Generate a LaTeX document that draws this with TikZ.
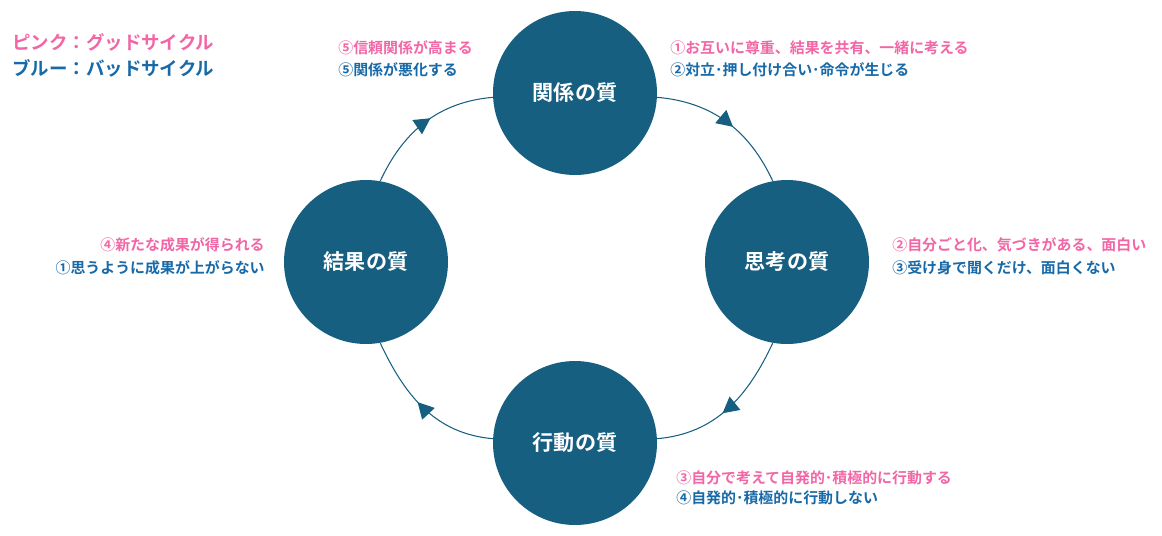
\documentclass[tikz,border=0pt]{standalone}
\usepackage{fontspec}
\setmainfont{Noto Sans CJK JP}[BoldFont={Noto Sans CJK JP Bold}]
\usetikzlibrary{decorations.markings,arrows.meta}
\definecolor{quality}{HTML}{175F80}
\definecolor{good}{HTML}{F266A6}
\definecolor{bad}{HTML}{1769A8}
\tikzset{
  quality/.style={circle, fill=quality, minimum size=3.28cm, text=white, font=\fontsize{12}{14}\selectfont\bfseries},
  flow/.style={draw=quality, line width=0.6pt, postaction={decorate},
    decoration={markings, mark=at position 0.55 with {\arrow[quality]{Triangle[length=3.2mm,width=3.4mm]}}}},
  goodtxt/.style={text=good, font=\fontsize{8.5}{10}\selectfont\bfseries, inner sep=0pt},
  badtxt/.style={text=bad, font=\fontsize{8.5}{10}\selectfont\bfseries, inner sep=0pt},
}
\begin{document}
\begin{tikzpicture}[x=0.02cm, y=-0.02cm]
    \useasboundingbox (0,0) rectangle (1162,535);

    % Nodes
    \node (rel) [quality] at (575,93) {関係の質};
    \node (thk) [quality] at (787,262) {思考の質};
    \node (act) [quality] at (575,443) {行動の質};
    \node (res) [quality] at (366,262) {結果の質};

    % Connectors
    \draw [flow] (rel.-3) to[out=-5, in=115] (thk.100);
    \draw [flow] (thk.-100) to[out=-115, in=5] (act.3);
    \draw [flow] (act.177) to[out=175, in=-65] (res.-80);
    \draw [flow] (res.80) to[out=65, in=185] (rel.183);

    % Legend
    \node (leg_good) [goodtxt, anchor=west, font=\fontsize{10.5}{12}\selectfont\bfseries] at (12,42) {ピンク：グッドサイクル};
    \node (leg_bad) [badtxt, anchor=west, font=\fontsize{10.5}{12}\selectfont\bfseries] at (12,68) {ブルー：バッドサイクル};

    % Labels
    \node (rel_good) [goodtxt, anchor=west] at (338,48) {⑤信頼関係が高まる};
    \node (rel_bad) [badtxt, anchor=west] at (338,70) {⑤関係が悪化する};
    \node (thk_good) [goodtxt, anchor=west] at (670,48) {①お互いに尊重、結果を共有、一緒に考える};
    \node (thk_bad) [badtxt, anchor=west] at (670,70) {②対立･押し付け合い･命令が生じる};
    \node (act_good) [goodtxt, anchor=west] at (892,245) {②自分ごと化、気づきがある、面白い};
    \node (act_bad) [badtxt, anchor=west] at (892,268) {③受け身で聞くだけ、面白くない};
    \node (res_good) [goodtxt, anchor=east] at (265,245) {④新たな成果が得られる};
    \node (res_bad) [badtxt, anchor=east] at (265,268) {①思うように成果が上がらない};
    \node (loop_good) [goodtxt, anchor=west] at (676,478) {③自分で考えて自発的･積極的に行動する};
    \node (loop_bad) [badtxt, anchor=west] at (676,498) {④自発的･積極的に行動しない};
\end{tikzpicture}
\end{document}
